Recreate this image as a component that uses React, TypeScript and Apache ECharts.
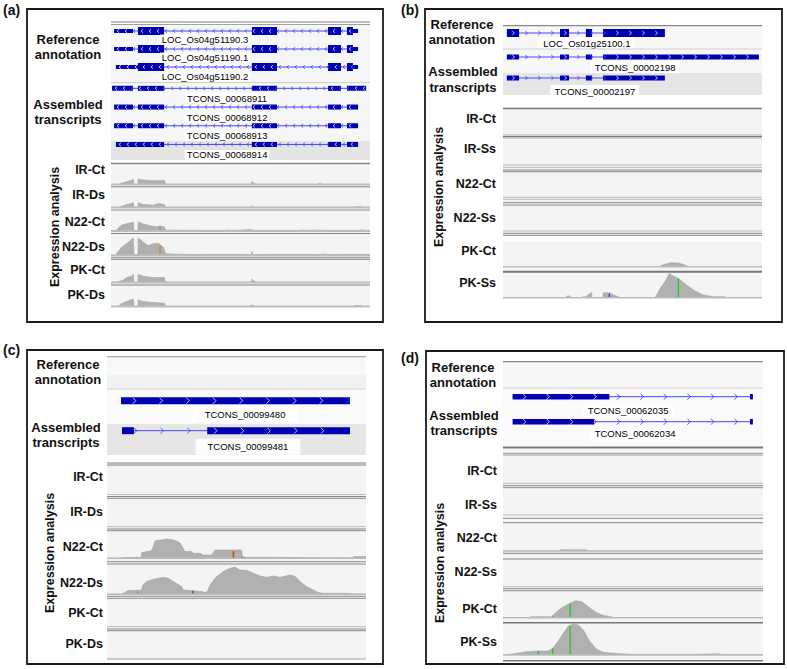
import React, { useEffect, useRef } from "react";
import * as echarts from "echarts";

// ---------------- DATA ----------------
// exon = [start, end, kind]  kind: 0 = UTR (thin), 1 = assembled exon, 2 = reference CDS
// x positions are relative positions (0-100) across the viewed locus

// ---- panel (a)
const aRefNames = ["LOC_Os04g51190.3", "LOC_Os04g51190.1", "LOC_Os04g51190.2"];
const aRefExons = [
  [[1.2, 8.5, 0], [10.4, 20.5, 2], [54.4, 64.1, 2], [83.8, 88.8, 2], [91.1, 93.4, 2], [93.4, 95.4, 0]],
  [[1.2, 8.5, 0], [10.4, 20.5, 2], [54.4, 64.1, 2], [83.8, 88.8, 2], [91.1, 93.4, 2], [93.4, 95.4, 0]],
  [[1.9, 10.4, 0], [10.4, 20.5, 2], [54.4, 64.1, 2], [83.8, 88.8, 2], [91.1, 93.4, 2], [93.4, 95.4, 0]],
];
const aAsmNames = ["TCONS_00068911", "TCONS_00068912", "TCONS_00068913", "TCONS_00068914"];
const aAsmExons = [
  [[0.4, 8.5, 1], [10.4, 20.5, 1], [54.4, 64.1, 1], [83.8, 88.8, 1], [91.1, 98.5, 1]],
  [[1.2, 8.5, 1], [10.4, 20.5, 1], [54.4, 64.1, 1], [83.8, 88.8, 1], [91.1, 95.4, 1]],
  [[1.2, 8.5, 1], [10.4, 20.5, 1], [54.4, 64.1, 1], [83.8, 88.8, 1], [91.1, 95.4, 1]],
  [[1.9, 20.5, 1], [54.4, 64.1, 1], [83.8, 88.8, 1], [91.1, 95.4, 1]],
];
const aTrackNames = ["IR-Ct", "IR-Ds", "N22-Ct", "N22-Ds", "PK-Ct", "PK-Ds"];
const aIRCt = [[0, 0], [3, 0], [3.5, 1], [6, 2.7], [8, 4.3], [8.6, 5.3], [8.9, 0], [10.4, 0], [10.5, 5.3], [12.5, 4.5], [16.3, 3.8], [20.6, 4], [21.1, 0], [54.2, 0], [54.3, 2.7], [56.2, 0], [80, 0], [80.2, 1], [81, 1], [81.2, 0], [100, 0]];
const aIRDs = [[0, 0], [3.3, 0], [3.5, 0.7], [6, 3], [8, 4], [8.6, 5], [8.9, 0], [10.4, 0], [10.5, 4.7], [12.5, 3], [16.3, 2.3], [18.2, 4], [20.6, 3], [21.1, 0], [54.2, 0], [54.3, 1.7], [55.6, 0], [94.1, 0], [94.2, 0.8], [96.8, 0.8], [97, 0], [100, 0]];
const aN22Ct = [[0, 0], [2.2, 0], [2.4, 1.7], [4.1, 6], [6.7, 7.7], [8.6, 8.7], [8.9, 0.5], [10.4, 0.5], [10.5, 9.3], [12.5, 7], [15.1, 5.3], [17.6, 4.3], [18.9, 5], [20.6, 4.3], [21.1, 1], [30, 0.6], [31, 1], [32.5, 0.6], [44, 0.6], [45, 1], [47, 0.6], [54.3, 1.5], [55, 0.6], [73, 0.6], [74, 1], [76, 0.6], [80.5, 1], [82, 0.6], [96, 0.6], [96.5, 1.2], [98, 0.6], [100, 0.6]];
const aN22Ds = [[0, 0], [2, 0], [2.2, 2.3], [4.1, 8.3], [6.7, 13.3], [8.6, 17.7], [8.9, 1], [10.4, 1], [10.5, 17.7], [12.5, 13.3], [14.4, 10], [16.3, 11.7], [18.3, 12.3], [20.2, 8.3], [21.1, 1.7], [30, 1], [44, 1.2], [54.2, 1], [54.4, 4], [54.8, 1], [74, 1.2], [80, 1], [82.5, 1.5], [84, 1], [96, 1.2], [100, 1]];
const aPKCt = [[0, 0], [2.8, 0], [3, 1], [4.7, 2.3], [6, 5], [8, 6.3], [8.6, 8.3], [8.9, 0], [10.4, 0], [10.5, 8], [12.5, 6.3], [16.3, 5], [20.6, 5], [21.1, 0], [54.2, 0], [54.3, 3.3], [56.2, 0], [100, 0]];
const aPKDs = [[0, 0], [3.3, 0], [3.5, 2.3], [6, 5], [8.3, 7.3], [8.6, 7.3], [8.9, 0], [10.4, 0], [10.5, 6.7], [12.5, 5], [16.3, 4], [20.6, 3.3], [21.1, 0], [54.2, 0], [54.3, 1.7], [55.6, 0], [94.1, 0], [94.2, 1], [96.8, 1], [97, 0], [100, 0]];
// mismatch markers: [x, height, base]  base 0=A(green) 1=C(blue) 2=G(orange) 3=T(red)
const aN22CtMarks = [[18.9, 5, 2]];
const aN22DsMarks = [[18.9, 10, 2]];

// ---- panel (b)
const bRefNames = ["LOC_Os01g25100.1"];
const bRefExons = [[[1.5, 6.2, 2], [22, 25.5, 2], [32, 34.4, 2], [38.6, 62.5, 2]]];
const bAsmNames = ["TCONS_00002198", "TCONS_00002197"];
const bAsmExons = [
  [[1.5, 6.2, 1], [22, 25.5, 1], [32, 34.4, 1], [38.6, 98.8, 1]],
  [[1.5, 6.2, 1], [22, 25.5, 1], [32, 34.4, 1], [38.6, 62.5, 1]],
];
const bTrackNames = ["IR-Ct", "IR-Ss", "N22-Ct", "N22-Ss", "PK-Ct", "PK-Ss"];
const bPKCt = [[0, 0], [60.2, 0], [61.5, 1.5], [63, 3], [65.1, 4], [67.5, 3.7], [69.5, 2.5], [71.2, 0.5], [71.8, 0], [100, 0]];
const bPKSs = [[0, 0], [24.4, 0], [24.6, 1.7], [25.9, 1.7], [26.1, 0], [30.6, 0], [30.8, 1], [31.7, 1], [31.9, 0], [32.1, 0], [32.3, 2], [34.2, 5.3], [34.4, 0], [38.5, 0], [38.7, 5], [41.3, 5], [42.5, 3], [44.5, 1], [45, 0], [58.7, 0], [60.6, 9], [62.5, 16], [64.2, 24.3], [65.8, 21.7], [67.7, 19.3], [70.9, 12.7], [74.1, 6.7], [77.3, 2.7], [81.2, 1], [85.7, 1], [86, 0], [100, 0]];
const bPKCtMarks = [[68.3, 1.5, 0]];
const bPKSsMarks = [[67.7, 19.3, 0], [41, 4, 1]];

// ---- panel (c)
const cAsmNames = ["TCONS_00099480", "TCONS_00099481"];
const cAsmExons = [
  [[5.4, 93.8, 1]],
  [[5.8, 10.4, 1], [38.7, 93.8, 1]],
];
const cTrackNames = ["IR-Ct", "IR-Ds", "N22-Ct", "N22-Ds", "PK-Ct", "PK-Ds"];
const cN22Ct = [[0, 0], [5.5, 0], [5.7, 0.7], [13.2, 1], [13.4, 5.7], [17.2, 7.5], [18.5, 17], [19.2, 18], [21.7, 18.5], [23, 19.3], [25.6, 18.5], [28.2, 15.5], [29.2, 11], [30.1, 6.7], [32.7, 6.7], [33.3, 5], [35.9, 5], [37.2, 3.3], [40.4, 3.3], [41.7, 8.3], [52, 8.3], [52.3, 1.7], [54, 1], [60.4, 1], [60.6, 0.7], [78.4, 0.7], [78.6, 0.3], [95.1, 0.3], [95.2, 1.7], [100, 1.7]];
const cN22Ds = [[0, 0], [5.5, 0], [5.7, 0.3], [8.2, 3.7], [11.5, 4], [13.4, 4.3], [13.8, 9.3], [15.3, 12.7], [17.9, 15], [21.7, 17], [23.7, 16], [25.6, 12.7], [28.8, 7.7], [29.5, 4.3], [32.7, 3.7], [36.6, 2.7], [37.8, 1.7], [38.7, 2.7], [39.8, 9.3], [42.3, 17.7], [44.9, 22.7], [47.5, 26], [49.4, 27], [51.4, 24.3], [53.9, 24], [56.5, 21], [59.1, 18.3], [61.7, 17], [64.2, 18.3], [66.8, 17], [70.7, 19.3], [72.6, 18], [74.5, 12.7], [77.1, 7.7], [79.7, 4.3], [81.6, 1.7], [83.5, 1], [93.8, 1], [94.5, 0.3], [100, 0.3]];
const cN22CtMarks = [[11.8, 1, 0], [48.5, 7, 2], [48.9, 7, 3], [52, 1.5, 3], [68.3, 0.8, 0]];
const cN22DsMarks = [[11.8, 2.5, 0], [33.1, 3.5, 1]];

// ---- panel (d)
const dAsmNames = ["TCONS_00062035", "TCONS_00062034"];
const dAsmExons = [
  [[3.7, 40.9, 1], [95, 96.1, 1]],
  [[3.7, 35, 1], [95, 96.1, 1]],
];
const dTrackNames = ["IR-Ct", "IR-Ss", "N22-Ct", "N22-Ss", "PK-Ct", "PK-Ss"];
const dN22Ct = [[0, 0], [21.8, 0], [21.9, 1.2], [32.2, 1.2], [32.3, 0], [100, 0]];
const dPKCt = [[0, 0], [10.2, 0], [10.4, 1], [18.7, 1], [19.1, 2], [20.6, 6], [23.2, 11], [25.8, 14.3], [27.7, 17], [30.3, 16], [32.8, 11], [36, 5], [38.6, 2.3], [41.8, 1], [42.2, 0], [100, 0]];
const dPKSs = [[0, 0], [1.2, 0], [1.4, 0.3], [5.3, 1.7], [9.1, 3.3], [13, 4], [17.4, 4], [19.1, 6.7], [20.6, 11.7], [23.2, 21.7], [25.1, 29], [27, 31], [29, 30], [30.9, 25], [33.5, 13.3], [36, 5.7], [38.6, 2.7], [42.4, 1.7], [47.6, 1], [50.1, 0.7], [74.4, 0.7], [74.5, 1.3], [83.5, 1.3], [83.6, 0.5], [100, 0.5]];
const dPKCtMarks = [[13.6, 1, 0], [19.1, 2, 0], [25.8, 14.3, 0]];
const dPKSsMarks = [[13.6, 4, 0], [19.1, 6.7, 0], [25.8, 29, 0]];

// ---------------- STYLE / LAYOUT ----------------
const FONT = "'Liberation Sans', Arial, Helvetica, sans-serif";
const EXON = "#0000b2";
const INTRON = "#4646ff";
const COV = "#b0b0b0";
const BASE_COLORS = ["#22c322", "#4040d8", "#d08a2c", "#e03a3a"];

const panels: any[] = [
  {
    tag: "(a)", tagPos: [3, 10], box: [27, 9, 356, 313], x0: 111, x1: 370,
    strand: -1, spacing: 8, chev: [2, 1.8], kindH: [4, 5, 8], labelPad: [0, 2],
    blocks: [
      { names: aRefNames, exons: aRefExons, top: 22, pitch: 18, labels: [[36.3, 8.5], [36.3, 8.5], [36.3, 9.5]] },
      { names: aAsmNames, exons: aAsmExons, top: 79, pitch: 18.7, labels: [[44.8, 10], [44.8, 10], [44.8, 10], [44.8, 10.5]] },
    ],
    sections: [["Reference", 68, 39], ["annotation", 68, 54], ["Assembled", 68, 104], ["transcripts", 68, 119]],
    trackNames: aTrackNames, labelRight: 105, expr: [55, 227],
    tracks: [
      { data: aIRCt, marks: [], base: 184.5, h: 20, ly: 170 },
      { data: aIRDs, marks: [], base: 207.5, h: 20, ly: 195 },
      { data: aN22Ct, marks: aN22CtMarks, base: 231, h: 20, ly: 222 },
      { data: aN22Ds, marks: aN22DsMarks, base: 255.5, h: 22, ly: 246.5 },
      { data: aPKCt, marks: [], base: 282.5, h: 22, ly: 270 },
      { data: aPKDs, marks: [], base: 306.5, h: 20, ly: 294.5 },
    ],
    bgs: [[24.5, 82, "#f6f6f6"], [83, 141, "#f6f6f6"], [141, 160, "#e4e4e4"], [165, 307, "#f4f4f4"]],
    lines: [[22, "#808080", 1.2], [24.5, "#a0a0a0", 1], [82.5, "#d0d0d0", 1], [163.5, "#808080", 1.3],
      [184.5, "#bdbdbd", 2], [186.8, "#808080", 1], [207.5, "#bdbdbd", 2], [210, "#909090", 1],
      [231, "#bdbdbd", 2], [233.5, "#808080", 1], [255.5, "#bdbdbd", 2], [257.7, "#909090", 1], [259.3, "#808080", 1],
      [282.5, "#bdbdbd", 2], [285, "#808080", 1], [306.5, "#bdbdbd", 2]],
  },
  {
    tag: "(b)", tagPos: [401, 10], box: [425, 9, 357, 313], x0: 503, x1: 762,
    strand: 1, spacing: 13, chev: [2.2, 2], kindH: [4, 5, 8], labelPad: [1, 4],
    blocks: [
      { names: bRefNames, exons: bRefExons, top: 22, pitch: 22, labels: [[32.4, 10]] },
      { names: bAsmNames, exons: bAsmExons, top: 46.5, pitch: 21, labels: [[51, 10], [35.5, 13]] },
    ],
    sections: [["Reference", 462, 24], ["annotation", 462, 39], ["Assembled", 463, 71], ["transcripts", 463, 87]],
    trackNames: bTrackNames, labelRight: 496, expr: [439, 187],
    tracks: [
      { data: [], marks: [], base: 135, h: 25, ly: 118.5 },
      { data: [], marks: [], base: 165, h: 25, ly: 148.5 },
      { data: [], marks: [], base: 197.3, h: 25, ly: 184 },
      { data: [], marks: [], base: 231, h: 25, ly: 217.5 },
      { data: bPKCt, marks: bPKCtMarks, base: 266.7, h: 25, ly: 251 },
      { data: bPKSs, marks: bPKSsMarks, base: 297.7, h: 26, ly: 283 },
    ],
    bgs: [[26, 49, "#f7f7f7"], [49.5, 73, "#f7f7f7"], [73, 95, "#e5e5e5"], [109, 235, "#f4f4f4"], [242, 298, "#f4f4f4"]],
    lines: [[25.7, "#888888", 1.2], [49, "#d0d0d0", 1], [108.5, "#777777", 1.5],
      [135, "#b0b0b0", 1], [136.5, "#777777", 1], [138, "#a0a0a0", 1],
      [165, "#bbbbbb", 1], [167.3, "#bbbbbb", 1], [170, "#888888", 1], [171.7, "#888888", 1],
      [197.3, "#bbbbbb", 1], [199.3, "#bbbbbb", 1], [202.7, "#888888", 1], [205, "#888888", 1],
      [231, "#bbbbbb", 1], [233.3, "#888888", 1], [235.3, "#888888", 1],
      [266.7, "#bbbbbb", 1.5], [271.7, "#777777", 2], [297.7, "#bbbbbb", 1.5]],
  },
  {
    tag: "(c)", tagPos: [3, 350], box: [27, 350, 356, 314], x0: 107, x1: 366,
    strand: 1, spacing: 26.7, chev: [3, 3], kindH: [4, 7, 7], labelPad: [3, 12],
    blocks: [
      { names: cAsmNames, exons: cAsmExons, top: 385.7, pitch: 30, labels: [[53.3, 13.5], [54.4, 16]] },
    ],
    sections: [["Reference", 68, 364], ["annotation", 68, 379], ["Assembled", 66, 427], ["transcripts", 66, 442]],
    trackNames: cTrackNames, labelRight: 103, expr: [50, 553],
    tracks: [
      { data: [], marks: [], base: 494.5, h: 27, ly: 476.5 },
      { data: [], marks: [], base: 526.7, h: 27, ly: 512 },
      { data: cN22Ct, marks: cN22CtMarks, base: 558.3, h: 27, ly: 546.5 },
      { data: cN22Ds, marks: cN22DsMarks, base: 594.3, h: 27, ly: 583 },
      { data: [], marks: [], base: 626.7, h: 27, ly: 613 },
      { data: [], marks: [], base: 659, h: 27, ly: 643.5 },
    ],
    bgs: [[357, 375, "#f8f8f8"], [375, 389, "#f1f1f1"], [390, 424, "#f9f9f9"], [424, 455, "#e6e6e6"], [466, 659, "#f4f4f4"]],
    lines: [[356.7, "#aaaaaa", 1.2], [389, "#d0d0d0", 1], [463, "#777777", 1], [465, "#777777", 1],
      [494.5, "#bbbbbb", 1], [496.5, "#888888", 1], [498.3, "#888888", 1],
      [526.7, "#bbbbbb", 1], [529, "#888888", 1], [530.7, "#888888", 1],
      [558.3, "#bbbbbb", 1.5], [561.7, "#888888", 1], [564, "#888888", 1],
      [594.3, "#bbbbbb", 1.5], [596.3, "#888888", 1], [598.3, "#888888", 1],
      [626.7, "#bbbbbb", 1], [629, "#888888", 1], [630.7, "#888888", 1], [659, "#bbbbbb", 1.5]],
  },
  {
    tag: "(d)", tagPos: [401, 358], box: [426, 351, 358, 313], x0: 503, x1: 763,
    strand: 1, spacing: 23.5, chev: [3, 3], kindH: [4, 5.5, 8], labelPad: [2, 5],
    blocks: [
      { names: dAsmNames, exons: dAsmExons, top: 384.2, pitch: 25, labels: [[48.1, 14], [50.8, 11.5]] },
    ],
    sections: [["Reference", 463, 367], ["annotation", 463, 382], ["Assembled", 464, 415], ["transcripts", 464, 430]],
    trackNames: dTrackNames, labelRight: 497, expr: [440, 563],
    tracks: [
      { data: [], marks: [], base: 483.3, h: 27, ly: 470.5 },
      { data: [], marks: [], base: 515, h: 27, ly: 504.5 },
      { data: dN22Ct, marks: [], base: 551, h: 27, ly: 538 },
      { data: [], marks: [], base: 586.7, h: 27, ly: 572 },
      { data: dPKCt, marks: dPKCtMarks, base: 617.7, h: 26, ly: 608.5 },
      { data: dPKSs, marks: dPKSsMarks, base: 655, h: 32, ly: 642 },
    ],
    bgs: [[362, 388, "#f7f7f7"], [389, 446, "#fafafa"], [449, 660, "#f4f4f4"]],
    lines: [[361.7, "#888888", 1.2], [388, "#d0d0d0", 1], [447.5, "#777777", 2], [453.3, "#999999", 1], [455, "#999999", 1],
      [483.3, "#bbbbbb", 1], [485.7, "#888888", 1], [487.7, "#888888", 1],
      [515, "#bbbbbb", 1], [518.3, "#888888", 1], [522.7, "#888888", 1],
      [551, "#bbbbbb", 1.5], [553.3, "#888888", 1], [559, "#888888", 1],
      [586.7, "#bbbbbb", 1], [588.7, "#888888", 1], [590.7, "#888888", 1],
      [617.7, "#bbbbbb", 1.5], [622.7, "#777777", 1.5], [655, "#bbbbbb", 1.5], [660.7, "#777777", 1.5]],
  },
];

function txt(x: number, y: number, text: string, size: number, align: string, extra: any = {}) {
  return {
    type: "text", x, y, z: 20, ...extra,
    style: {
      text, fill: "#111", fontFamily: FONT, fontSize: size, fontWeight: "bold",
      align, verticalAlign: "middle", textAlign: align, textVerticalAlign: "middle",
    },
  };
}

function geneRenderer(p: any, b: any) {
  return (params: any, api: any) => {
    const row = params.dataIndex;
    const ex = b.exons[row];
    const y = api.coord([0, row])[1];
    const X = (v: number) => api.coord([v, row])[0];
    const children: any[] = [];
    const xs = X(ex[0][0]);
    const xe = X(ex[ex.length - 1][1]);
    children.push({ type: "line", shape: { x1: xs, y1: y, x2: xe, y2: y }, style: { stroke: INTRON, lineWidth: 1 } });
    ex.forEach((e: number[]) => {
      const hh = p.kindH[e[2]];
      children.push({ type: "rect", shape: { x: X(e[0]), y: y - hh / 2, width: X(e[1]) - X(e[0]), height: hh }, style: { fill: EXON } });
    });
    const [cw, ch] = p.chev;
    const dir = p.strand;
    for (let cx = xs + p.spacing / 2; cx < xe - 2; cx += p.spacing) {
      const inEx = ex.find((e: number[]) => cx - cw >= X(e[0]) && cx + cw <= X(e[1]));
      const color = inEx ? "#dcdcff" : INTRON;
      const pts = [[cx - (dir * cw) / 2, y - ch], [cx + (dir * cw) / 2, y], [cx - (dir * cw) / 2, y + ch]];
      children.push({ type: "polyline", shape: { points: pts }, style: { stroke: color, lineWidth: 0.9, fill: "none" } });
    }
    const [lx, ldy] = b.labels[row];
    children.push({
      type: "text", x: X(lx), y: y + ldy,
      style: {
        text: b.names[row], fill: "#000", fontFamily: FONT, fontSize: 9.5,
        align: "center", verticalAlign: "middle", textAlign: "center", textVerticalAlign: "middle",
        backgroundColor: "rgba(255,255,255,0.9)", padding: p.labelPad,
      },
    });
    return { type: "group", children };
  };
}

function markRenderer(params: any, api: any) {
  const x = api.value(0);
  const p0 = api.coord([x, 0]);
  const p1 = api.coord([x, api.value(1)]);
  return {
    type: "rect",
    shape: { x: p0[0] - 0.6, y: p1[1], width: 1.3, height: p0[1] - p1[1] },
    style: { fill: BASE_COLORS[api.value(2)] },
  };
}

function buildOption() {
  const grid: any[] = [], xAxis: any[] = [], yAxis: any[] = [], series: any[] = [], elements: any[] = [];
  let gi = 0;
  panels.forEach((p) => {
    const W = p.x1 - p.x0;
    p.bgs.forEach(([y0, y1, c]: any) =>
      elements.push({ type: "rect", z: 0, shape: { x: p.x0, y: y0, width: W, height: y1 - y0 }, style: { fill: c } }));
    p.lines.forEach(([y, c, w]: any) =>
      elements.push({ type: "line", z: 10, shape: { x1: p.x0, y1: y, x2: p.x1, y2: y }, style: { stroke: c, lineWidth: w } }));
    const [bx, by, bw, bh] = p.box;
    elements.push({ type: "rect", z: 15, shape: { x: bx, y: by, width: bw, height: bh }, style: { fill: "none", stroke: "#1a1a1a", lineWidth: 1.8 } });
    elements.push(txt(p.tagPos[0], p.tagPos[1], p.tag, 14, "left"));
    p.sections.forEach(([t, x, y]: any) => elements.push(txt(x, y, t, 13, "center")));
    p.tracks.forEach((t: any, i: number) => elements.push(txt(p.labelRight, t.ly, p.trackNames[i], 12.5, "right")));
    elements.push(txt(p.expr[0], p.expr[1], "Expression analysis", 12.5, "center", { rotation: Math.PI / 2 }));

    p.blocks.forEach((b: any) => {
      grid.push({ left: p.x0, top: b.top, width: W, height: b.names.length * b.pitch });
      xAxis.push({ type: "value", gridIndex: gi, min: 0, max: 100, show: false });
      yAxis.push({ type: "category", gridIndex: gi, data: b.names, inverse: true, show: false });
      series.push({
        type: "custom", xAxisIndex: gi, yAxisIndex: gi, z: 5, silent: true,
        data: b.names.map((_: string, i: number) => [0, i]),
        renderItem: geneRenderer(p, b),
      });
      gi++;
    });
    p.tracks.forEach((t: any) => {
      grid.push({ left: p.x0, top: t.base - t.h, width: W, height: t.h });
      xAxis.push({ type: "value", gridIndex: gi, min: 0, max: 100, show: false });
      yAxis.push({ type: "value", gridIndex: gi, min: 0, max: t.h, show: false });
      if (t.data.length) {
        series.push({
          type: "line", xAxisIndex: gi, yAxisIndex: gi, data: t.data, symbol: "none", silent: true, z: 3,
          lineStyle: { width: 0.6, color: "#a6a6a6" }, areaStyle: { color: COV, opacity: 1 },
        });
      }
      if (t.marks.length) {
        series.push({ type: "custom", xAxisIndex: gi, yAxisIndex: gi, data: t.marks, renderItem: markRenderer, z: 4, silent: true });
      }
      gi++;
    });
  });
  return { animation: false, backgroundColor: "#ffffff", grid, xAxis, yAxis, series, graphic: { elements } };
}

export default function App() {
  const ref = useRef<HTMLDivElement>(null);
  useEffect(() => {
    document.body.style.margin = "0";
    const chart = echarts.init(ref.current as HTMLDivElement, null, { renderer: "svg" });
    chart.setOption(buildOption() as any);
    return () => chart.dispose();
  }, []);
  return <div ref={ref} style={{ width: 787, height: 669, background: "#fff" }} />;
}
